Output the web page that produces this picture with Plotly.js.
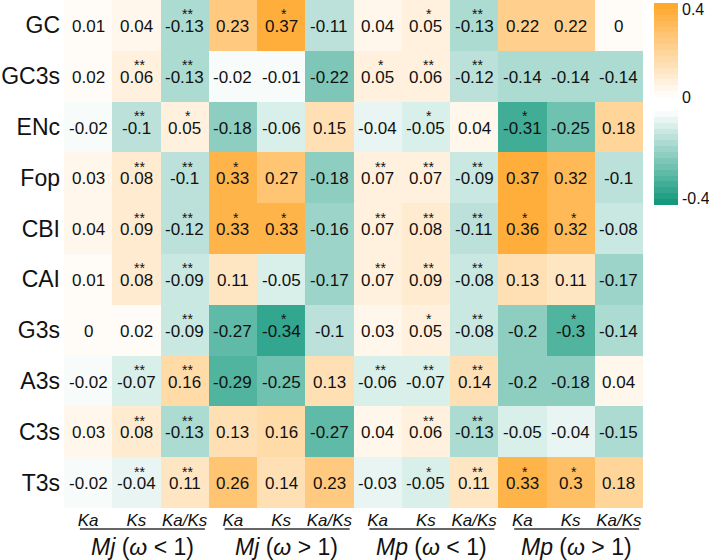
<!DOCTYPE html>
<html>
<head>
<meta charset="utf-8">
<script src="https://cdn.plot.ly/plotly-3.0.1.min.js"></script>
<style>html,body{margin:0;padding:0;background:#fff;}#chart{width:709px;height:560px;}</style>
</head>
<body>
<div id="chart"></div>
<script>
// ---- data ----
const rows = ["GC","GC3s","ENc","Fop","CBI","CAI","G3s","A3s","C3s","T3s"];
const subLabels = ["Ka","Ks","Ka/Ks","Ka","Ks","Ka/Ks","Ka","Ks","Ka/Ks","Ka","Ks","Ka/Ks"];
const groupLabels = ["<i>Mj</i> (<i>ω</i> &lt; 1)","<i>Mj</i> (<i>ω</i> &gt; 1)","<i>Mp</i> (<i>ω</i> &lt; 1)","<i>Mp</i> (<i>ω</i> &gt; 1)"];
const values = [
  [0.01, 0.04, -0.13, 0.23, 0.37, -0.11, 0.04, 0.05, -0.13, 0.22, 0.22, 0],
  [0.02, 0.06, -0.13, -0.02, -0.01, -0.22, 0.05, 0.06, -0.12, -0.14, -0.14, -0.14],
  [-0.02, -0.1, 0.05, -0.18, -0.06, 0.15, -0.04, -0.05, 0.04, -0.31, -0.25, 0.18],
  [0.03, 0.08, -0.1, 0.33, 0.27, -0.18, 0.07, 0.07, -0.09, 0.37, 0.32, -0.1],
  [0.04, 0.09, -0.12, 0.33, 0.33, -0.16, 0.07, 0.08, -0.11, 0.36, 0.32, -0.08],
  [0.01, 0.08, -0.09, 0.11, -0.05, -0.17, 0.07, 0.09, -0.08, 0.13, 0.11, -0.17],
  [0, 0.02, -0.09, -0.27, -0.34, -0.1, 0.03, 0.05, -0.08, -0.2, -0.3, -0.14],
  [-0.02, -0.07, 0.16, -0.29, -0.25, 0.13, -0.06, -0.07, 0.14, -0.2, -0.18, 0.04],
  [0.03, 0.08, -0.13, 0.13, 0.16, -0.27, 0.04, 0.06, -0.13, -0.05, -0.04, -0.15],
  [-0.02, -0.04, 0.11, 0.26, 0.14, 0.23, -0.03, -0.05, 0.11, 0.33, 0.3, 0.18]
];
const stars = [
  ["", "", "**", "", "*", "", "", "*", "**", "", "", ""],
  ["", "**", "**", "", "", "", "*", "**", "**", "", "", ""],
  ["", "**", "*", "", "", "", "", "*", "", "*", "", ""],
  ["", "**", "**", "*", "", "", "**", "**", "**", "", "", ""],
  ["", "**", "**", "*", "*", "", "**", "**", "**", "*", "*", ""],
  ["", "**", "**", "", "", "", "**", "**", "**", "", "", ""],
  ["", "", "**", "", "*", "", "", "*", "**", "", "*", ""],
  ["", "**", "**", "", "", "", "**", "**", "**", "", "", ""],
  ["", "**", "**", "", "", "", "", "**", "**", "", "", ""],
  ["", "**", "**", "", "", "", "", "*", "**", "*", "*", ""]
];

// ---- colours ----
const WHITE = [255,255,255], ORANGE = [255,166,40], GREEN = [12,150,122];
function mix(a,b,t){return 'rgb('+a.map((v,i)=>Math.round(v+(b[i]-v)*t)).join(',')+')';}
function stepped(from,to,n,reverse){
  const cs=[];
  for(let i=0;i<n;i++){
    let t=(i+0.5)/n; if(reverse) t=1-t;
    const c=mix(from,to,t);
    cs.push([i/n,c]); cs.push([(i+1)/n,c]);
  }
  return cs;
}
const NB = 16;
const posScale = stepped(WHITE, ORANGE, NB, false);
const negScale = stepped(WHITE, GREEN, NB, true);

const xIdx = subLabels.map((_,i)=>i);
const zPos = values.map(r=>r.map(v=>v>=0?v:null));
const zNeg = values.map(r=>r.map(v=>v<0?v:null));

const H = 508; // plot-area height in px
const traces = [
  {type:'heatmap', x:xIdx, y:rows, z:zPos, zmin:0, zmax:0.4, colorscale:posScale, hoverinfo:'skip',
   colorbar:{x:1.019, xanchor:'left', xpad:0, ypad:0, thickness:24, len:94/H, lenmode:'fraction',
             y:1-3/H, yanchor:'top', outlinewidth:0, showticklabels:false, ticks:''}},
  {type:'heatmap', x:xIdx, y:rows, z:zNeg, zmin:-0.4, zmax:0, colorscale:negScale, hoverinfo:'skip',
   colorbar:{x:1.019, xanchor:'left', xpad:0, ypad:0, thickness:24, len:94/H, lenmode:'fraction',
             y:1-111/H, yanchor:'top', outlinewidth:0, showticklabels:false, ticks:''}}
];

const annotations = [];
rows.forEach((r,ri)=>{
  values[ri].forEach((v,ci)=>{
    annotations.push({x:ci, y:r, xref:'x', yref:'y', text:String(v), showarrow:false,
      font:{size:17, color:'#111'}, yshift:-1});
    if(stars[ri][ci]) annotations.push({x:ci, y:r, xref:'x', yref:'y', text:stars[ri][ci], showarrow:false,
      font:{size:14, color:'#111'}, yshift:11, xshift:3});
  });
});
const shapes = [];
groupLabels.forEach((g,gi)=>{
  shapes.push({type:'line', xref:'x', yref:'paper', x0:gi*3-0.17, x1:gi*3+2.42, y0:1-529/H, y1:1-529/H,
    line:{color:'#333', width:1.5}});
  annotations.push({x:gi*3+1.12, y:1-547/H, xref:'x', yref:'paper', text:g, showarrow:false,
    font:{size:23, color:'#111'}, yanchor:'middle'});
});
// colorbar labels (plot right edge at 643px -> labels start ~681px)
[["0.4",10],["0",97],["-0.4",199]].forEach(([t,py])=>{
  annotations.push({x:1.0, xref:'paper', xshift:37, y:1-py/H, yref:'paper', text:t, showarrow:false,
    xanchor:'left', yanchor:'middle', font:{size:16, color:'#111'}});
});

const layout = {
  width:709, height:560,
  margin:{l:64, r:66, t:0, b:52, pad:0},
  paper_bgcolor:'#fff', plot_bgcolor:'#fff',
  font:{family:'"Liberation Sans", Arial, sans-serif', color:'#111'},
  xaxis:{range:[-0.5,11.5], tickvals:xIdx, ticktext:subLabels.map(s=>'<i>'+s+'</i>'), showgrid:false,
         zeroline:false, showline:false, ticks:'', tickfont:{size:17}, fixedrange:true},
  yaxis:{type:'category', categoryarray:rows, autorange:'reversed', showgrid:false, zeroline:false,
         showline:false, ticks:'', tickfont:{size:23}, ticklabelstandoff:3, fixedrange:true},
  annotations, shapes, showlegend:false
};
Plotly.newPlot('chart', traces, layout, {displayModeBar:false, staticPlot:true});
</script>
</body>
</html>
